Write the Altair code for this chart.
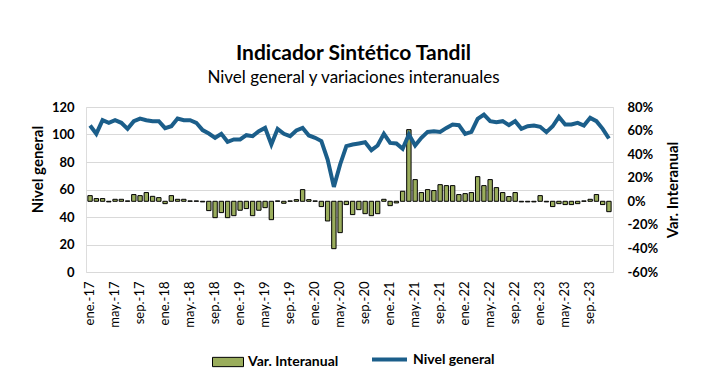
import altair as alt
import pandas as pd

MESES = ["ene", "feb", "mar", "abr", "may", "jun", "jul", "ago", "sep", "oct", "nov", "dic"]
ANIOS = ["17", "18", "19", "20", "21", "22", "23"]

nivel = [106.5, 100.5, 110.4, 108.5, 110.4, 108.5, 104.1, 109.7, 111.6, 110.4, 109.7, 109.7,
         104.6, 106.0, 111.6, 110.4, 110.4, 108.5, 103.2, 100.7, 97.6, 100.5, 94.7, 96.4,
         96.4, 99.5, 98.8, 102.4, 104.8, 92.7, 104.1, 100.5, 98.8, 102.9, 104.8, 99.3,
         97.6, 95.2, 81.8, 61.9, 78.2, 91.5, 92.7, 93.5, 94.4, 88.6, 92.0, 100.5,
         93.9, 93.5, 89.6, 100.0, 92.0, 97.6, 101.9, 102.4, 101.9, 104.8, 107.3, 106.8,
         100.5, 101.9, 111.4, 114.5, 109.7, 109.0, 109.7, 106.8, 109.7, 104.1, 106.0, 106.5,
         105.6, 101.7, 106.0, 112.8, 107.3, 107.3, 108.5, 106.5, 112.1, 109.7, 104.1, 97.1]

var_interanual = [4.8, 2.3, 2.3, -0.5, 1.7, 1.7, 0.3, 5.7, 4.8, 7.4, 4.2, 3.1,
                  -2.0, 4.8, 1.7, 1.7, 0.3, 0.3, -0.5, -7.9, -13.9, -9.6, -13.9, -12.2,
                  -7.6, -6.2, -12.2, -7.6, -5.4, -15.6, 0.3, -1.7, 0.3, 1.4, 9.9, 1.4,
                  0.3, -4.5, -16.7, -40.2, -26.6, -2.8, -11.3, -7.1, -10.5, -12.2, -10.5, 1.7,
                  -3.7, -1.4, 8.5, 60.8, 18.4, 7.4, 9.9, 9.1, 14.1, 13.3, 13.3, 5.7,
                  6.5, 7.4, 20.9, 13.3, 18.4, 11.6, 7.4, 4.0, 7.4, -0.5, -0.5, -0.5,
                  4.8, -0.5, -4.5, -2.0, -2.8, -2.8, -2.0, 0.3, 1.7, 5.7, -2.8, -8.8]

etiquetas = [f"{m}.-{a}" for a in ANIOS for m in MESES]
etiquetas_visibles = etiquetas[::4]

df = pd.DataFrame({
    "mes": etiquetas,
    "nivel": nivel,
    "var": var_interanual,
    "s1": "Var. Interanual",
    "s2": "Nivel general",
})

FONT = "Lato"
GREEN = "#9AAD5C"
BLUE = "#1B5E8A"

x_enc = alt.X(
    "mes:O",
    sort=etiquetas,
    scale=alt.Scale(paddingInner=0.3, paddingOuter=0.3),
    axis=alt.Axis(values=etiquetas_visibles, labelAngle=-90, labelFont=FONT, labelFontSize=13,
                  labelColor="black", labelPadding=9, ticks=False, domain=False, title=None),
)

bars = alt.Chart(df).mark_bar(stroke="black", strokeWidth=1).encode(
    x=x_enc,
    y=alt.Y("var:Q", scale=alt.Scale(domain=[-60, 80], nice=False),
            axis=alt.Axis(orient="right", values=[-60, -40, -20, 0, 20, 40, 60, 80],
                          labelExpr="datum.value + '%'", grid=False, ticks=False, domain=False,
                          labelFont=FONT, labelFontSize=13, labelFontWeight="bold",
                          labelColor="black", labelPadding=14,
                          title="Var. Interanual", titleFont=FONT, titleFontSize=15,
                          titleFontWeight="bold", titleColor="black", titlePadding=8,
                          titleAngle=270, titleBaseline="top")),
    fill=alt.Fill("s1:N", scale=alt.Scale(domain=["Var. Interanual"], range=[GREEN]),
                  legend=alt.Legend(orient="none", legendX=126, legendY=239, title=None,
                                    symbolType="M-1,-0.3L1,-0.3L1,0.3L-1,0.3Z", symbolSize=961,
                                    symbolStrokeColor="black", symbolStrokeWidth=1,
                                    symbolFillColor=GREEN,
                                    labelFont=FONT, labelFontSize=14, labelFontWeight="bold",
                                    labelColor="black", labelOffset=4)),
)

line = alt.Chart(df).mark_line(strokeWidth=4).encode(
    x=x_enc,
    y=alt.Y("nivel:Q", scale=alt.Scale(domain=[0, 120], nice=False),
            axis=alt.Axis(orient="left", values=[0, 20, 40, 60, 80, 100, 120],
                          grid=True, gridColor="#D9D9D9", gridWidth=1, ticks=False, domain=False,
                          labelFont=FONT, labelFontSize=13, labelFontWeight="bold",
                          labelColor="black", labelPadding=12,
                          title="Nivel general", titleFont=FONT, titleFontSize=15,
                          titleFontWeight="bold", titleColor="black", titlePadding=6,
                          titleY=62)),
    stroke=alt.Stroke("s2:N", scale=alt.Scale(domain=["Nivel general"], range=[BLUE]),
                      legend=alt.Legend(orient="none", legendX=284, legendY=233, title=None,
                                        symbolType="stroke", symbolSize=1225, symbolStrokeWidth=4,
                                        labelFont=FONT, labelFontSize=14, labelFontWeight="bold",
                                        labelColor="black", labelOffset=4)),
)

chart = alt.layer(bars, line).resolve_scale(y="independent").properties(
    width=527,
    height=165,
    autosize=alt.AutoSizeParams(type="none"),
    padding={"left": 78, "top": 99, "right": 86, "bottom": 111},
    title=alt.TitleParams(
        text="Indicador Sintético Tandil",
        subtitle="Nivel general y variaciones interanuales",
        anchor="middle", frame="group", dx=4, offset=15,
        font=FONT, fontSize=21, fontWeight="bold", color="black",
        subtitleFont=FONT, subtitleFontSize=17, subtitleColor="black", subtitlePadding=6,
    ),
).configure_view(stroke=None).configure(background="white")

chart.save("out.html", embed_options={"renderer": "svg", "actions": False})
